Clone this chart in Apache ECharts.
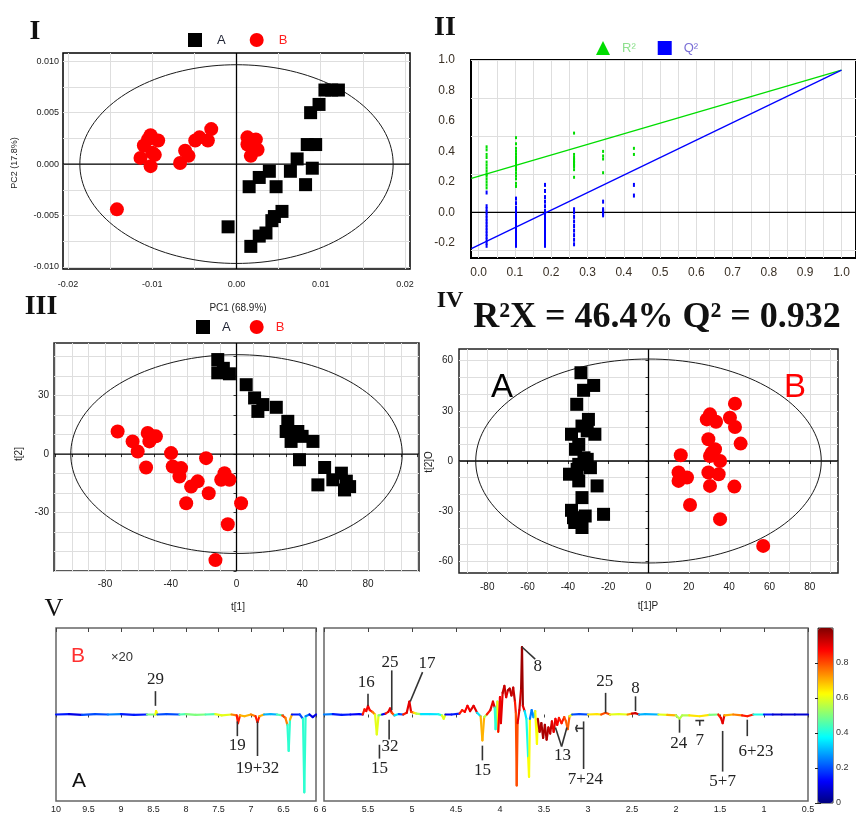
<!DOCTYPE html>
<html><head><meta charset="utf-8">
<script src="https://cdn.jsdelivr.net/npm/echarts@6/dist/echarts.min.js"></script>
<style>html,body{margin:0;padding:0;background:#fff}#c{width:856px;height:814px}</style>
</head><body><div id="c"></div>
<script>
// ---------------- DATA ----------------
// Panel I : PCA scores (PC1 vs PC2)
const pcaA = [[0.0113,0.0072],[0.0121,0.0072],[0.0105,0.0072],[0.0098,0.0058],[0.0088,0.0050],[0.0084,0.0019],[0.0094,0.0019],[0.0072,0.0005],[0.0064,-0.0007],[0.0090,-0.0004],[0.0082,-0.0020],[0.0039,-0.0007],[0.0027,-0.0013],[0.0015,-0.0022],[0.0047,-0.0022],[0.0054,-0.0046],[0.0045,-0.0051],[0.0042,-0.0055],[0.0035,-0.0067],[0.0027,-0.0070],[0.0017,-0.0080],[-0.0010,-0.0061]];
const pcaB = [[-0.0142,-0.0044],[-0.0102,0.0028],[-0.0093,0.0023],[-0.0110,0.0018],[-0.0100,0.0011],[-0.0114,0.0006],[-0.0102,-0.0002],[-0.0097,0.0009],[-0.0105,0.0024],[-0.0067,0.0001],[-0.0061,0.0013],[-0.0057,0.0008],[-0.0049,0.0023],[-0.0044,0.0026],[-0.0034,0.0023],[-0.0030,0.0034],[0.0013,0.0019],[0.0023,0.0024],[0.0025,0.0014],[0.0017,0.0008],[0.0019,0.0016],[0.0013,0.0026]];
const pcaEllipse = [0, 0, 0.0186, 0.00966];
const pcaGridX = [-0.02,-0.015,-0.01,-0.005,0,0.005,0.01,0.015,0.02];
const pcaGridY = [-0.01,-0.0075,-0.005,-0.0025,0,0.0025,0.005,0.0075,0.01];
const pcaLabX = [-0.02,-0.01,0,0.01,0.02];
const pcaLabY = [-0.01,-0.005,0,0.005,0.01];

// Panel II : permutation test
const permR2 = [[0.022,0.43],[0.022,0.41],[0.022,0.38],[0.022,0.36],[0.022,0.33],[0.022,0.31],[0.022,0.29],[0.022,0.27],[0.022,0.25],[0.022,0.24],[0.022,0.22],[0.022,0.20],[0.022,0.18],[0.022,0.16],
  [0.103,0.49],[0.103,0.45],[0.103,0.42],[0.103,0.40],[0.103,0.38],[0.103,0.36],[0.103,0.35],[0.103,0.34],[0.103,0.33],[0.103,0.32],[0.103,0.31],[0.103,0.30],[0.103,0.29],[0.103,0.28],[0.103,0.26],[0.103,0.24],[0.103,0.22],[0.103,0.19],[0.103,0.17],
  [0.263,0.52],[0.263,0.38],[0.263,0.36],[0.263,0.35],[0.263,0.34],[0.263,0.33],[0.263,0.32],[0.263,0.31],[0.263,0.30],[0.263,0.28],[0.263,0.23],
  [0.343,0.40],[0.343,0.37],[0.343,0.35],[0.343,0.26],
  [0.428,0.42],[0.428,0.38]];
const permQ2 = [[0.022,0.13],[0.022,0.04],[0.022,0.02],[0.022,0.0],[0.022,-0.02],[0.022,-0.04],[0.022,-0.06],[0.022,-0.08],[0.022,-0.10],[0.022,-0.12],[0.022,-0.14],[0.022,-0.16],[0.022,-0.18],[0.022,-0.20],[0.022,-0.22],
  [0.103,0.09],[0.103,0.06],[0.103,0.03],[0.103,0.01],[0.103,-0.01],[0.103,-0.03],[0.103,-0.05],[0.103,-0.07],[0.103,-0.09],[0.103,-0.11],[0.103,-0.13],[0.103,-0.15],[0.103,-0.17],[0.103,-0.19],[0.103,-0.21],[0.103,-0.22],
  [0.183,0.18],[0.183,0.14],[0.183,0.10],[0.183,0.07],[0.183,0.04],[0.183,0.01],[0.183,-0.01],[0.183,-0.03],[0.183,-0.05],[0.183,-0.07],[0.183,-0.09],[0.183,-0.11],[0.183,-0.13],[0.183,-0.15],[0.183,-0.17],[0.183,-0.19],[0.183,-0.21],[0.183,-0.22],
  [0.263,0.02],[0.263,0.0],[0.263,-0.03],[0.263,-0.06],[0.263,-0.09],[0.263,-0.12],[0.263,-0.15],[0.263,-0.18],[0.263,-0.21],
  [0.343,0.07],[0.343,0.02],[0.343,0.01],[0.343,0.0],[0.343,-0.01],[0.343,-0.02],
  [0.428,0.18],[0.428,0.11]];
const r2Line = [[-0.02,0.223],[1.0,0.933]];
const q2Line = [[-0.02,-0.238],[1.0,0.933]];
const permGridX = [0,0.05,0.1,0.15,0.2,0.25,0.3,0.35,0.4,0.45,0.5,0.55,0.6,0.65,0.7,0.75,0.8,0.85,0.9,0.95,1.0];
const permGridY = [-0.25,0,0.25,0.5,0.75,1.0];
const permLabX = [0,0.1,0.2,0.3,0.4,0.5,0.6,0.7,0.8,0.9,1.0];
const permLabY = [-0.2,0,0.2,0.4,0.6,0.8,1.0];

// Panel III : PLS-DA scores
const plsA = [[-11.4,48.5],[-11.4,41.7],[-8,44],[-4.3,41.2],[5.9,35.6],[11,28.8],[13,21.9],[16,25.4],[24.2,24],[31.2,16.8],[30.2,11.6],[37.3,11.6],[33.2,6.5],[39.9,9.1],[46.5,6.5],[38.3,-2.9],[53.6,-6.9],[63.8,-9.8],[58.6,-13.2],[66.8,-13.9],[49.5,-15.8],[68.8,-16.7],[65.7,-18.4]];
const plsB = [[-72.3,11.6],[-63.2,6.5],[-60.1,1.3],[-54,10.8],[-51,9.1],[-49,9.1],[-53,6.5],[-55,-6.9],[-39.8,0.5],[-38.8,-6.4],[-33.7,-7.2],[-34.7,-11.5],[-27.6,-16.7],[-23.6,-14],[-30.6,-25.2],[-18.5,-2.1],[-16.9,-20.1],[-9.3,-13.2],[-7.3,-9.8],[-4.3,-13.2],[2.8,-25.2],[-5.3,-36],[-12.8,-54.4]];
const plsEllipse = [0, 0, 100.8, 51];
const plsGridX = [-110,-100,-90,-80,-70,-60,-50,-40,-30,-20,-10,0,10,20,30,40,50,60,70,80,90,100,110];
const plsGridY = [-60,-50,-40,-30,-20,-10,0,10,20,30,40,50];
const plsLabX = [-80,-40,0,40,80];
const plsLabY = [-30,0,30];

// Panel IV : OPLS-DA scores
const oplsA = [[-33.5,52.8],[-27.2,45.2],[-32.2,42.3],[-35.6,33.9],[-29.8,24.9],[-33,20.9],[-38.2,16],[-26.6,16],[-36.2,7],[-30.4,1],[-34.6,-2],[-28.8,-4],[-39.2,-7.9],[-25.5,-14.9],[-33,-21.9],[-38.2,-29.5],[-31.4,-32.9],[-22.3,-31.9],[-36.6,-36.8],[-33,-39.8],[-35.4,-5],[-32,1.9],[-34.6,9.9],[-30.4,18],[-34.6,-11.9],[-37.2,-33.9]];
const oplsB = [[42.9,34.3],[30.5,27.9],[28.9,24.9],[33.5,23.5],[40.4,25.9],[42.9,20.3],[45.7,10.4],[29.7,13],[31.4,5],[33,7],[35.5,0],[30.5,3],[29.7,-6.9],[34.8,-7.9],[30.5,-14.9],[42.6,-15.3],[16,3.4],[14.9,-6.9],[19.1,-9.9],[14.9,-11.9],[20.6,-26.3],[35.5,-34.8],[56.9,-50.8]];
const oplsEllipse = [0, 0, 85.7, 61];
const oplsGridX = [-90,-80,-70,-60,-50,-40,-30,-20,-10,0,10,20,30,40,50,60,70,80,90];
const oplsGridY = [-60,-50,-40,-30,-20,-10,0,10,20,30,40,50,60];
const oplsLabX = [-80,-60,-40,-20,0,20,40,60,80];
const oplsLabY = [-60,-30,0,30,60];

// Panel V : loading plot  [ppm, loading, |r|]
const specL = [[10.0,0,0.12],[9.8,0.005,0.15],[9.6,-0.005,0.1],[9.4,0.005,0.2],[9.2,0,0.12],[9.0,0.005,0.25],[8.8,-0.005,0.15],[8.6,0,0.2],
  [8.47,0,0.5],[8.46,0.04,0.62],[8.44,0,0.4],[8.3,0.005,0.2],[8.1,0,0.3],[8.0,0.005,0.45],[7.85,-0.005,0.5],[7.7,0,0.55],[7.55,0.005,0.45],[7.45,-0.01,0.6],[7.3,0,0.7],
  [7.22,-0.01,0.75],[7.2,-0.1,0.85],[7.17,-0.01,0.8],[7.1,-0.02,0.7],[7.0,0,0.6],[6.93,-0.02,0.75],[6.9,-0.09,0.85],[6.87,-0.02,0.7],[6.8,0,0.55],[6.7,0.005,0.3],[6.6,0,0.25],
  [6.52,-0.01,0.45],[6.47,-0.04,0.8],[6.44,-0.12,0.75],[6.42,-0.42,0.42],[6.4,-0.06,0.7],[6.37,0,0.3],[6.25,0,0.15],[6.2,-0.05,0.2],[6.18,-0.9,0.42],[6.16,-0.02,0.25],[6.1,0,0.15],[6.05,-0.03,0.1],[6.0,0,0.15]];
const specR = [[6.0,0,0.35],[5.9,0.005,0.25],[5.8,-0.005,0.15],[5.7,0,0.2],[5.6,0.005,0.12],[5.56,0,0.3],[5.54,0.06,0.85],[5.52,0.04,0.9],[5.5,0.1,0.88],[5.48,0.05,0.85],[5.45,0.03,0.75],[5.42,0,0.5],[5.4,-0.23,0.6],[5.38,-0.01,0.5],[5.34,0,0.2],[5.3,0.01,0.12],[5.27,0.03,0.85],[5.25,0.07,0.9],[5.23,0.02,0.8],[5.2,-0.01,0.35],[5.15,0.005,0.2],[5.1,0,0.15],[5.06,0.02,0.85],[5.03,0.15,0.9],[5.01,0.03,0.8],[4.98,0.02,0.65],[4.95,0.01,0.55],[4.9,0.005,0.38],[4.8,0.005,0.35],[4.7,0.003,0.35],[4.66,-0.01,0.4],[4.64,-0.05,0.6],[4.62,0,0.4],[4.55,0,0.12],[4.46,0.01,0.15],[4.43,0.05,0.85],[4.4,0.03,0.8],[4.37,0.1,0.88],[4.34,0.04,0.85],[4.3,0.1,0.9],[4.26,0.02,0.7],[4.22,-0.02,0.35],[4.2,-0.3,0.7],[4.18,-0.03,0.55],[4.15,0,0.3],[4.11,0.05,0.85],[4.08,0.15,0.9],[4.06,0.08,0.85],[4.05,-0.17,0.42],[4.03,0.15,0.85],[4.02,-0.2,0.62],[4.0,0.2,0.88],[3.99,-0.1,0.2],[3.97,0.25,0.9],[3.95,0.33,0.93],[3.93,0.2,0.8],[3.91,0.28,0.9],[3.89,0.3,0.95],[3.87,0.22,0.9],[3.85,0.31,0.93],[3.83,0.15,0.85],[3.82,0.02,0.8],[3.81,-0.82,0.8],[3.8,-0.1,0.9],[3.78,0.05,0.4],[3.76,0.3,0.92],[3.75,0.78,0.97],[3.74,0.1,0.9],[3.72,0.04,0.55],[3.7,-0.05,0.35],[3.68,-0.5,0.4],[3.67,-0.72,0.62],[3.66,-0.05,0.4],[3.64,0.05,0.25],[3.62,-0.03,0.15],[3.6,0.04,0.3],[3.58,-0.34,0.62],[3.57,-0.05,0.8],[3.55,-0.2,0.95],[3.53,-0.1,0.9],[3.51,-0.27,0.96],[3.49,-0.12,0.9],[3.47,-0.29,0.95],[3.45,-0.15,0.9],[3.43,-0.22,0.93],[3.41,-0.08,0.85],[3.39,-0.2,0.9],[3.37,-0.05,0.7],[3.35,-0.12,0.88],[3.33,-0.04,0.6],[3.3,-0.1,0.85],[3.27,-0.03,0.5],[3.25,-0.08,0.8],[3.23,-0.17,0.78],[3.21,-0.02,0.6],[3.18,0,0.3],[3.1,0.005,0.2],[3.0,0,0.55],[2.9,0.005,0.65],[2.85,0,0.6],[2.8,0.02,0.8],[2.75,0,0.55],[2.65,0.005,0.6],[2.55,0,0.5],[2.5,0.01,0.75],[2.46,0.015,0.92],[2.42,0,0.8],[2.35,0.005,0.3],[2.2,0,0.2],[2.1,-0.005,0.6],[2.0,-0.01,0.7],[1.96,-0.05,0.55],[1.93,-0.01,0.6],[1.85,-0.01,0.55],[1.73,-0.02,0.65],[1.62,-0.005,0.5],[1.52,0,0.7],[1.49,-0.04,0.85],[1.47,-0.1,0.9],[1.45,-0.01,0.7],[1.35,0,0.35],[1.25,-0.01,0.75],[1.19,-0.02,0.85],[1.12,0,0.6],[1.0,0,0.4],[0.9,0,0.15],[0.8,0,0.08],[0.65,0,0.08],[0.5,0,0.08]];
const annL_segs = [[8.47,0.27,8.47,0.10],[7.21,-0.08,7.21,-0.25],[6.90,-0.08,6.90,-0.48]];
const annL_pos = [[8.47,0.41],[7.21,-0.36],[6.90,-0.62]];
const annL_text = ['29','19','19+32'];
const annR_segs = [[5.50,0.24,5.50,0.10],[5.23,0.51,5.23,0.05],[4.88,0.49,5.02,0.15],[5.37,-0.35,5.37,-0.51],[5.26,-0.06,5.26,-0.29],[4.20,-0.36,4.20,-0.53],[3.75,0.78,3.60,0.64],[3.37,-0.15,3.30,-0.37],[3.30,-0.37,3.24,-0.15],[3.05,-0.08,3.05,-0.63],[3.05,-0.16,3.14,-0.16],[3.14,-0.16,3.12,-0.12],[3.14,-0.16,3.12,-0.20],[2.80,0.25,2.80,0.02],[2.46,0.21,2.46,0.04],[1.96,-0.06,1.96,-0.21],[1.78,-0.07,1.68,-0.07],[1.73,-0.07,1.73,-0.13],[1.47,-0.19,1.47,-0.66],[1.19,-0.06,1.19,-0.25]];
const annR_pos = [[5.52,0.375],[5.25,0.60],[4.83,0.59],[5.37,-0.63],[5.25,-0.37],[4.20,-0.65],[3.57,0.56],[3.29,-0.48],[3.03,-0.75],[2.81,0.38],[2.46,0.30],[1.97,-0.34],[1.73,-0.30],[1.47,-0.77],[1.09,-0.43]];
const annR_text = ['16','25','17','15','32','15','8','13','7+24','25','8','24','7','5+7','6+23'];
const jet = ['#00007f','#0000ff','#007fff','#00ffff','#7fff7f','#ffff00','#ff7f00','#ff0000','#7f0000'];

// ---------------- CHART ----------------
const SANS = '"Liberation Sans", Arial, sans-serif';
const SERIF = '"Liberation Serif", "Times New Roman", serif';
const chart = echarts.init(document.getElementById('c'), null, {width:856, height:814});

const grid = [
  {left:63, right:446, top:53, bottom:545, borderColor:'#000', borderWidth:1.5},
  {left:471, right:-1, top:60, bottom:556, borderColor:'#000', borderWidth:2},
  {left:54, right:437, top:343, bottom:243, borderColor:'#222', borderWidth:1.5},
  {left:459, right:18, top:349, bottom:241, borderColor:'#222', borderWidth:1.5},
  {left:56, right:540, top:628, bottom:11, borderColor:'#666', borderWidth:1.5},
  {left:324, right:48, top:628, bottom:11, borderColor:'#666', borderWidth:1.5},
  {left:818, right:23, top:628, bottom:11, borderColor:'#333', borderWidth:1}
].map(g => Object.assign({show:true, backgroundColor:'transparent'}, g));

const GL = {show:true, lineStyle:{color:'#dedede', width:1}};
function valAxis(gi, min, max, gridVals, labVals, fmt, lab, tick) {
  return {gridIndex:gi, type:'value', min, max, axisLine:{show:false},
    axisTick:Object.assign({show:false, customValues:gridVals}, tick||{}),
    splitLine:GL,
    axisLabel:Object.assign({customValues:labVals, formatter:fmt, fontFamily:SANS, fontSize:9, color:'#222'}, lab||{})};
}
const f0 = v => String(v);
const xAxis = [
  valAxis(0, -0.0206, 0.0206, pcaGridX, pcaLabX, v=>v.toFixed(2), {margin:11}),
  valAxis(1, -0.021, 1.04, permGridX, permLabX, v=>v.toFixed(1), {fontSize:12, color:'#3a3025', margin:9}),
  valAxis(2, -111, 111, plsGridX, plsLabX, f0, {fontSize:10, margin:8}, {show:true, length:3, lineStyle:{color:'#333'}}),
  valAxis(3, -94, 94, oplsGridX, oplsLabX, f0, {fontSize:10, margin:9}, {show:true, length:3, lineStyle:{color:'#333'}}),
  {gridIndex:4, type:'value', min:6, max:10, inverse:true, interval:0.5, axisLine:{show:false}, splitLine:{show:false},
   axisTick:{length:3, lineStyle:{color:'#444'}}, axisLabel:{fontFamily:SANS, fontSize:9, color:'#222', margin:4}},
  {gridIndex:5, type:'value', min:0.5, max:6, inverse:true, interval:0.5, axisLine:{show:false}, splitLine:{show:false},
   axisTick:{length:3, lineStyle:{color:'#444'}}, axisLabel:{fontFamily:SANS, fontSize:9, color:'#222', margin:4}},
  {gridIndex:6, type:'value', min:0, max:1, show:false},
  {gridIndex:4, type:'value', position:'top', min:6, max:10, inverse:true, interval:0.5, axisLine:{show:false}, splitLine:{show:false},
   axisLabel:{show:false}, axisTick:{inside:true, length:4, lineStyle:{color:'#444'}}},
  {gridIndex:5, type:'value', position:'top', min:0.5, max:6, inverse:true, interval:0.5, axisLine:{show:false}, splitLine:{show:false},
   axisLabel:{show:false}, axisTick:{inside:true, length:4, lineStyle:{color:'#444'}}}
];
const yAxis = [
  valAxis(0, -0.0102, 0.0108, pcaGridY, pcaLabY, v=>v.toFixed(3), {margin:4}),
  valAxis(1, -0.3, 1.0, permGridY, permLabY, v=>v.toFixed(1), {fontSize:12, color:'#3a3025', margin:16}),
  valAxis(2, -60, 57, plsGridY, plsLabY, f0, {fontSize:10, margin:5}, {show:true, length:3, lineStyle:{color:'#333'}}),
  valAxis(3, -67, 67, oplsGridY, oplsLabY, f0, {fontSize:10, margin:6}, {show:true, length:3, lineStyle:{color:'#333'}}),
  {gridIndex:4, type:'value', min:-1, max:1, show:false},
  {gridIndex:5, type:'value', min:-1, max:1, show:false},
  {gridIndex:6, type:'value', position:'right', min:0, max:1, interval:0.2, axisLine:{show:false}, splitLine:{show:false},
   axisTick:{inside:true, length:3, lineStyle:{color:'#222'}}, axisLabel:{showMaxLabel:false, fontFamily:SANS, fontSize:9, color:'#333', margin:3}},
  {gridIndex:6, type:'value', position:'left', min:0, max:1, interval:0.2, axisLine:{show:false}, splitLine:{show:false},
   axisTick:{inside:true, length:3, lineStyle:{color:'#222'}}, axisLabel:{show:false}}
];

function deco(gi, ell, vline, hline) {
  return {type:'custom', xAxisIndex:gi, yAxisIndex:gi, silent:true, z:1, clip:false,
    data:[ell], encode:{x:0, y:1},
    renderItem:(params, api) => {
      const cs = params.coordSys, o = api.coord([0,0]), ch = [];
      if (vline) ch.push({type:'line', shape:{x1:o[0], y1:cs.y, x2:o[0], y2:cs.y+cs.height}, style:{stroke:'#000', lineWidth:1.3}});
      if (hline) ch.push({type:'line', shape:{x1:cs.x, y1:o[1], x2:cs.x+cs.width, y2:o[1]}, style:{stroke:'#000', lineWidth:1.3}});
      const cx = api.value(0), cy = api.value(1), rx = api.value(2), ry = api.value(3);
      if (rx > 0) {
        const pts = [];
        for (let k = 0; k <= 160; k++) { const t = k/160*2*Math.PI; pts.push(api.coord([cx+rx*Math.cos(t), cy+ry*Math.sin(t)])); }
        ch.push({type:'polyline', shape:{points:pts}, style:{stroke:'#1a1a1a', lineWidth:1, fill:null}});
      }
      return {type:'group', children:ch};
    }};
}
function scat(gi, name, data, sym, size, color) {
  return {type:'scatter', name, xAxisIndex:gi, yAxisIndex:gi, data, symbol:sym, symbolSize:size, itemStyle:{color, opacity:1}, z:3, silent:true};
}
function spec(gi, data) {
  return {type:'custom', xAxisIndex:gi, yAxisIndex:gi, data, encode:{x:0, y:1}, z:3, silent:true,
    renderItem:(params, api) => {
      const i = params.dataIndex; if (i === 0) return null;
      const p0 = api.coord([data[i-1][0], data[i-1][1]]), p1 = api.coord([api.value(0), api.value(1)]);
      // colour each segment by its more intense (larger |loading|) end point
      const useIdx = Math.abs(data[i-1][1]) > Math.abs(data[i][1]) ? params.dataIndexInside - 1 : params.dataIndexInside;
      return {type:'line', shape:{x1:p0[0], y1:p0[1], x2:p1[0], y2:p1[1]}, style:{stroke:api.visual('color', useIdx), lineWidth:2.2, lineCap:'round'}};
    }};
}
function annSegs(gi, segs) {
  return {type:'custom', xAxisIndex:gi, yAxisIndex:gi, data:segs, encode:{x:[0,2], y:[1,3]}, z:4, silent:true, clip:false,
    renderItem:(params, api) => {
      const a = api.coord([api.value(0), api.value(1)]), b = api.coord([api.value(2), api.value(3)]);
      return {type:'line', shape:{x1:a[0], y1:a[1], x2:b[0], y2:b[1]}, style:{stroke:'#333', lineWidth:1.6}};
    }};
}
function annText(gi, pos, txt) {
  return {type:'custom', xAxisIndex:gi, yAxisIndex:gi, data:pos, encode:{x:0, y:1}, z:4, silent:true, clip:false,
    renderItem:(params, api) => {
      const p = api.coord([api.value(0), api.value(1)]);
      return {type:'text', x:p[0], y:p[1], style:{text:txt[params.dataIndex], font:'17px '+SERIF, fill:'#222',
        align:'center', verticalAlign:'middle', textAlign:'center', textVerticalAlign:'middle'}};
    }};
}

const series = [
  deco(0, pcaEllipse, true, true),
  scat(0, 'A', pcaA, 'rect', 13, '#000'),
  scat(0, 'B', pcaB, 'circle', 14, '#ff0000'),
  deco(1, [0,0,0,0], false, true),
  scat(1, 'R²', permR2, 'rect', [2,3], '#00dd00'),
  scat(1, 'Q²', permQ2, 'rect', [2,4], '#0000ff'),
  {type:'line', name:'R²', xAxisIndex:1, yAxisIndex:1, data:r2Line, symbol:'none', lineStyle:{color:'#00dd00', width:1.3}, itemStyle:{color:'#00dd00'}, z:2, silent:true},
  {type:'line', name:'Q²', xAxisIndex:1, yAxisIndex:1, data:q2Line, symbol:'none', lineStyle:{color:'#0000ff', width:1.3}, itemStyle:{color:'#0000ff'}, z:2, silent:true},
  deco(2, plsEllipse, true, true),
  scat(2, 'A', plsA, 'rect', 13, '#000'),
  scat(2, 'B', plsB, 'circle', 14, '#ff0000'),
  deco(3, oplsEllipse, true, true),
  scat(3, 'A', oplsA, 'rect', 13, '#000'),
  scat(3, 'B', oplsB, 'circle', 14, '#ff0000'),
  spec(4, specL),
  spec(5, specR),
  annSegs(4, annL_segs),
  annText(4, annL_pos, annL_text),
  annSegs(5, annR_segs),
  annText(5, annR_pos, annR_text),
  {type:'scatter', xAxisIndex:6, yAxisIndex:6, data:[]}
];
const specIdx = [series.indexOf(series.find(s => s.data === specL)), series.indexOf(series.find(s => s.data === specR))];

const legendBase = {orient:'horizontal', itemWidth:14, itemHeight:14, selectedMode:false, textStyle:{fontFamily:SANS, fontSize:13}};
const legend = [
  Object.assign({}, legendBase, {left:183, top:28, itemGap:24,
    data:[{name:'A', icon:'rect', textStyle:{color:'#1e2233', padding:[0,0,0,10]}}, {name:'B', icon:'circle', textStyle:{color:'#ff2020', padding:[0,0,0,10]}}]}),
  Object.assign({}, legendBase, {left:591, top:36, itemGap:22,
    data:[{name:'R²', icon:'triangle', textStyle:{color:'#8ee08e', padding:[0,0,0,7]}}, {name:'Q²', icon:'rect', textStyle:{color:'#7a6fd6', padding:[0,0,0,7]}}]}),
  Object.assign({}, legendBase, {left:191, top:315, itemGap:19,
    data:[{name:'A', icon:'rect', textStyle:{color:'#1e2233', padding:[0,0,0,7]}}, {name:'B', icon:'circle', textStyle:{color:'#ff2020', padding:[0,0,0,7]}}]})
];

function T(text, x, y, font, fill, rot) {
  return {type:'text', x, y, rotation:rot||0, silent:true, z:10,
    style:{text, font, fill:fill||'#222', align:'center', verticalAlign:'middle', textAlign:'center', textVerticalAlign:'middle'}};
}
const graphic = [
  T('I', 35, 32, 'bold 28px '+SERIF, '#111'),
  T('II', 445, 28, 'bold 28px '+SERIF, '#111'),
  T('III', 41, 307, 'bold 28px '+SERIF, '#111'),
  T('IV', 450, 301, 'bold 24px '+SERIF, '#111'),
  T('V', 54, 609, '26px '+SERIF, '#111'),
  T('R²X = 46.4% Q² = 0.932', 657, 318, 'bold 36px '+SERIF, '#111'),
  T('A', 502, 388, '33px '+SANS, '#000'),
  T('B', 795, 388, '33px '+SANS, '#ff0000'),
  T('PC2 (17.8%)', 15, 163, '9px '+SANS, '#222', Math.PI/2),
  T('PC1 (68.9%)', 238, 308, '10px '+SANS, '#222'),
  T('t[2]', 19, 454, '10px '+SANS, '#222', Math.PI/2),
  T('t[2]O', 429, 462, '10px '+SANS, '#222', Math.PI/2),
  T('t[1]', 238, 607, '10px '+SANS, '#222'),
  T('t[1]P', 648, 606, '10px '+SANS, '#222'),
  T('B', 78, 656, '21px '+SANS, '#ff3030'),
  T('×20', 122, 657, '13px '+SANS, '#333'),
  T('A', 79, 781, '21px '+SANS, '#111')
];

chart.setOption({
  animation:false,
  backgroundColor:'#fff',
  grid, xAxis, yAxis, series, legend, graphic,
  visualMap:{type:'continuous', seriesIndex:specIdx, dimension:2, min:0, max:1, calculable:false, hoverLink:false,
    orient:'vertical', left:818, top:628, itemWidth:15, itemHeight:175, padding:0, text:null, textGap:0,
    inRange:{color:jet}, textStyle:{fontSize:0}}
});
</script></body></html>
